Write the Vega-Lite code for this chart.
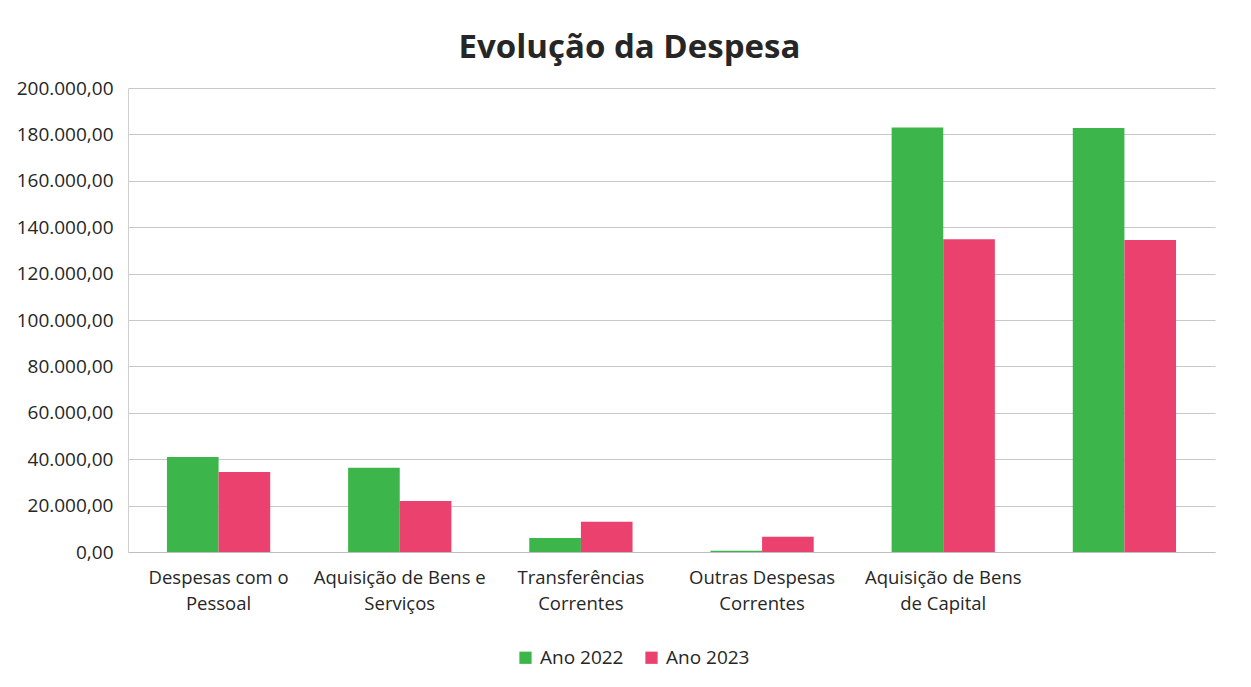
{
  "$schema": "https://vega.github.io/schema/vega-lite/v6.json",
  "width": 1087,
  "height": 464,
  "autosize": "none",
  "padding": {"left": 128, "top": 88, "right": 36, "bottom": 135},
  "background": "white",
  "config": {
    "font": "Open Sans",
    "locale": {"number": {"decimal": ",", "thousands": ".", "grouping": [3], "currency": ["", " €"]}},
    "view": {"stroke": null}
  },
  "title": {
    "text": "Evolução da Despesa",
    "fontSize": 33,
    "fontWeight": "bold",
    "font": "Open Sans",
    "color": "#262626",
    "anchor": "middle",
    "dx": -42,
    "offset": 14
  },
  "data": {
    "values": [
      {"cat": "Despesas com o|Pessoal", "serie": "Ano 2022", "valor": 41000},
      {"cat": "Despesas com o|Pessoal", "serie": "Ano 2023", "valor": 34500},
      {"cat": "Aquisição de Bens e|Serviços", "serie": "Ano 2022", "valor": 36300},
      {"cat": "Aquisição de Bens e|Serviços", "serie": "Ano 2023", "valor": 22000},
      {"cat": "Transferências|Correntes", "serie": "Ano 2022", "valor": 6000},
      {"cat": "Transferências|Correntes", "serie": "Ano 2023", "valor": 13000},
      {"cat": "Outras Despesas|Correntes", "serie": "Ano 2022", "valor": 500},
      {"cat": "Outras Despesas|Correntes", "serie": "Ano 2023", "valor": 6600},
      {"cat": "Aquisição de Bens|de Capital", "serie": "Ano 2022", "valor": 183000},
      {"cat": "Aquisição de Bens|de Capital", "serie": "Ano 2023", "valor": 134800},
      {"cat": " ", "serie": "Ano 2022", "valor": 182800},
      {"cat": " ", "serie": "Ano 2023", "valor": 134500}
    ]
  },
  "mark": {"type": "bar"},
  "encoding": {
    "x": {
      "field": "cat",
      "type": "nominal",
      "sort": null,
      "scale": {"paddingInner": 0.43, "paddingOuter": 0.215},
      "axis": {
        "title": null,
        "labelAngle": 0,
        "labelExpr": "split(datum.label, '|')",
        "labelFontSize": 18.5,
        "labelColor": "#262626",
        "labelLineHeight": 26,
        "labelPadding": 16,
        "labelBaseline": "top",
        "ticks": false,
        "domainColor": "#bfbfbf",
        "labelFont": "Open Sans"
      }
    },
    "xOffset": {"field": "serie", "type": "nominal", "sort": ["Ano 2022", "Ano 2023"]},
    "y": {
      "field": "valor",
      "type": "quantitative",
      "scale": {"domain": [0, 200000], "nice": false},
      "axis": {
        "title": null,
        "format": ",.2f",
        "values": [0, 20000, 40000, 60000, 80000, 100000, 120000, 140000, 160000, 180000, 200000],
        "labelFontSize": 19,
        "labelColor": "#262626",
        "labelPadding": 15,
        "labelFont": "Open Sans",
        "ticks": false,
        "domain": true,
        "domainColor": "#d0d0d0",
        "gridColor": "#c8c8c8",
        "gridWidth": 1.2
      }
    },
    "color": {
      "field": "serie",
      "type": "nominal",
      "scale": {"domain": ["Ano 2022", "Ano 2023"], "range": ["#3cb54a", "#eb416f"]},
      "legend": {
        "title": null,
        "orient": "none",
        "direction": "horizontal",
        "legendX": 388,
        "legendY": 560,
        "symbolType": "square",
        "symbolSize": 150,
        "symbolStrokeWidth": 0,
        "labelFontSize": 19,
        "labelFont": "Open Sans",
        "labelColor": "#262626",
        "columnPadding": 18,
        "labelOffset": 5
      }
    }
  }
}
